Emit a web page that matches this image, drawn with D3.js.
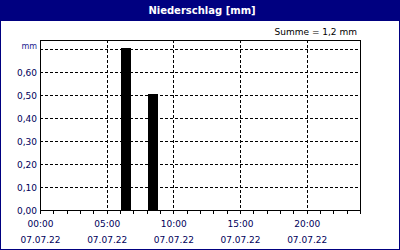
<!DOCTYPE html>
<html>
<head>
<meta charset="utf-8">
<script src="https://cdn.jsdelivr.net/npm/d3@7"></script>
<style>
  html, body { margin: 0; padding: 0; background: #fff; }
  svg { display: block; }
  text { font-family: "DejaVu Sans", sans-serif; }
</style>
</head>
<body>
<div id="chart"></div>
<script>
// Niederschlag, Stundenwerte am 07.07.22
const barHours = [6.5, 8.5];          // Intervallmitte (h)
const barValues = [0.70, 0.50];       // mm
const yTicks = [0, 0.1, 0.2, 0.3, 0.4, 0.5, 0.6];
const xTicks = [0, 5, 10, 15, 20];
const dateLabel = '07.07.22';
const title = 'Niederschlag [mm]';
const unit = 'mm';
const sumLabel = 'Summe = 1,2 mm';

const W = 400, H = 250;
const navy = '#000080';
const textColor = '#00005a';

const svg = d3.select('#chart').append('svg')
    .attr('width', W)
    .attr('height', H)
    .attr('shape-rendering', 'crispEdges');

// Rahmen + Titelleiste
svg.append('rect')
    .attr('x', 0.5).attr('y', 0.5)
    .attr('width', W - 1).attr('height', H - 1)
    .attr('fill', '#fff').attr('stroke', navy);
svg.append('rect')
    .attr('x', 0).attr('y', 0)
    .attr('width', W).attr('height', 21)
    .attr('fill', navy);
svg.append('text')
    .attr('x', 202).attr('y', 14)
    .attr('text-anchor', 'middle')
    .attr('fill', '#fff')
    .attr('font-weight', 'bold')
    .attr('font-size', '10px')
    .text(title);

// Skalen
const x = d3.scaleLinear().domain([0, 24]).range([40, 360]);
const y = d3.scaleLinear().domain([0, 170 / 230]).range([210, 40]);
const px = v => Math.round(v) + 0.5;

const g = svg.append('g');

// Gitter
g.selectAll('.hgrid')
    .data(yTicks.concat([0.7]).filter(d => d > 0))
    .enter().append('line')
    .attr('x1', x(0)).attr('x2', x(24))
    .attr('y1', d => px(y(d))).attr('y2', d => px(y(d)))
    .attr('stroke', '#000')
    .attr('stroke-dasharray', '3,2');

g.selectAll('.vgrid')
    .data(xTicks.filter(d => d > 0))
    .enter().append('line')
    .attr('x1', d => px(x(d))).attr('x2', d => px(x(d)))
    .attr('y1', y.range()[1]).attr('y2', y(0))
    .attr('stroke', '#000')
    .attr('stroke-dasharray', '3,2');

// Balken (Breite 0,75 h)
g.selectAll('.bar')
    .data(barHours)
    .enter().append('rect')
    .attr('x', (d, i) => Math.floor(x(d - 0.375)))
    .attr('width', (d, i) => Math.floor(x(d + 0.375)) - Math.floor(x(d - 0.375)))
    .attr('y', (d, i) => Math.round(y(barValues[i])) - 1)
    .attr('height', (d, i) => 211 - Math.round(y(barValues[i])) + 1)
    .attr('fill', '#000');

// Plotrahmen
g.append('rect')
    .attr('x', 40.5).attr('y', 40.5)
    .attr('width', 320).attr('height', 170)
    .attr('fill', 'none')
    .attr('stroke', '#000');

// Stundenstriche
g.selectAll('.htick')
    .data(d3.range(0, 25))
    .enter().append('line')
    .attr('x1', d => px(x(d))).attr('x2', d => px(x(d)))
    .attr('y1', 211).attr('y2', 214)
    .attr('stroke', '#000');

// Y-Beschriftung
const fmt = d => d.toFixed(2).replace('.', ',');
g.selectAll('.ylab')
    .data(yTicks)
    .enter().append('text')
    .attr('x', 37)
    .attr('y', d => Math.round(y(d)) + 4)
    .attr('text-anchor', 'end')
    .attr('font-size', '9px')
    .attr('fill', textColor)
    .text(fmt);

g.append('text')
    .attr('x', 37).attr('y', Math.round(y(0.7)) + 0)
    .attr('text-anchor', 'end')
    .attr('font-size', '8px')
    .attr('fill', '#1a1a90')
    .text(unit);

// X-Beschriftung
const xl = g.selectAll('.xlab')
    .data(xTicks)
    .enter().append('g')
    .attr('transform', d => `translate(${x(d) + 0.5},0)`);
xl.append('text')
    .attr('y', 227)
    .attr('text-anchor', 'middle')
    .attr('font-size', '9px')
    .attr('fill', textColor)
    .text(d => String(d).padStart(2, '0') + ':00');
xl.append('text')
    .attr('y', 243)
    .attr('text-anchor', 'middle')
    .attr('font-size', '9px')
    .attr('fill', textColor)
    .text(dateLabel);

// Summe
svg.append('text')
    .attr('x', 357).attr('y', 35)
    .attr('text-anchor', 'end')
    .attr('font-size', '9px')
    .attr('fill', '#000')
    .text(sumLabel);
</script>
</body>
</html>
